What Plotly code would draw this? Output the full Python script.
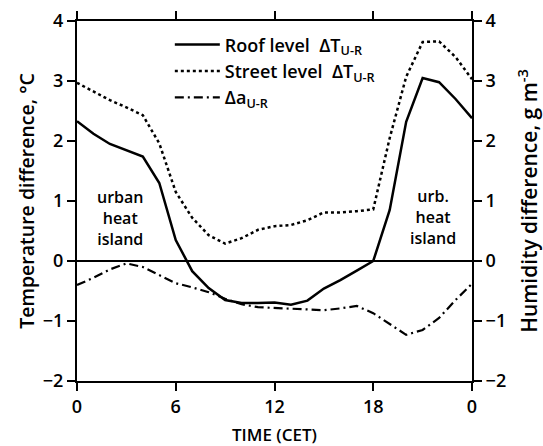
import plotly.graph_objects as go

hours = list(range(0, 25))
roof = [2.33, 2.12, 1.95, 1.85, 1.74, 1.30, 0.35, -0.17, -0.45, -0.65, -0.70, -0.70, -0.69,
        -0.73, -0.66, -0.46, -0.32, -0.16, 0.00, 0.85, 2.32, 3.05, 2.98, 2.70, 2.38]
street = [2.97, 2.83, 2.68, 2.56, 2.43, 1.96, 1.15, 0.72, 0.43, 0.29, 0.38, 0.52, 0.58,
          0.60, 0.68, 0.81, 0.81, 0.83, 0.86, 2.05, 3.07, 3.65, 3.66, 3.40, 3.03]
humid = [-0.40, -0.28, -0.14, -0.04, -0.10, -0.24, -0.37, -0.44, -0.52, -0.63, -0.72, -0.77, -0.78,
         -0.79, -0.81, -0.82, -0.79, -0.75, -0.87, -1.05, -1.23, -1.15, -0.95, -0.65, -0.38]
x_ticks = [0, 6, 12, 18, 24]
x_labels = ["0", "6", "12", "18", "0"]
y_ticks = [-2, -1, 0, 1, 2, 3, 4]

FONT = "Open Sans"
W = 600

fig = go.Figure()
fig.add_trace(go.Scatter(x=hours, y=roof, mode="lines", name="Roof level  ΔT<sub>U-R</sub>",
                         line=dict(color="black", width=2.5, dash="solid")))
fig.add_trace(go.Scatter(x=hours, y=street, mode="lines", name="Street level  ΔT<sub>U-R</sub>",
                         line=dict(color="black", width=2.5, dash="dot")))
fig.add_trace(go.Scatter(x=hours, y=humid, mode="lines", name="Δa<sub>U-R</sub>", yaxis="y2",
                         line=dict(color="black", width=2.2, dash="9px,4px,2px,4px")))

# zero line
fig.add_hline(y=0, line=dict(color="black", width=2))

ann_font = dict(family=FONT, size=16, color="black", weight=W)
fig.add_annotation(x=2.6, y=0.72, text="urban<br>heat<br>island", showarrow=False,
                   font=ann_font)
fig.add_annotation(x=21.65, y=0.73, text="urb.<br>heat<br>island", showarrow=False,
                   font=ann_font)

axis_common = dict(showgrid=False, zeroline=False, showline=True, linecolor="black",
                   linewidth=2, ticks="outside", ticklen=8, tickwidth=2, tickcolor="black",
                   automargin=False,
                   tickfont=dict(family=FONT, size=18, color="black", weight=W))

fig.update_layout(
    width=543, height=446,
    margin=dict(l=77, r=71, t=21, b=65),
    plot_bgcolor="white", paper_bgcolor="white",
    showlegend=True,
    legend=dict(x=0.235, y=0.985, xanchor="left", yanchor="top", bgcolor="rgba(0,0,0,0)",
                font=dict(family=FONT, size=18, color="black", weight=W), itemwidth=45,
                tracegroupgap=2),
    xaxis=dict(range=[0, 24], tickvals=x_ticks, ticktext=x_labels, mirror="ticks",
               title=dict(text="TIME (CET)", font=dict(family=FONT, size=17, color="black", weight=W),
                          standoff=17),
               **axis_common),
    yaxis=dict(range=[-2, 4], tickvals=y_ticks, mirror=False,
               title=dict(text="Temperature difference, °C",
                          font=dict(family=FONT, size=19.5, color="black", weight=W), standoff=3),
               **axis_common),
    yaxis2=dict(range=[-2, 4], tickvals=y_ticks, overlaying="y", side="right",
                title=dict(text="Humidity difference, g m<sup>-3</sup>",
                           font=dict(family=FONT, size=21, color="black", weight=W), standoff=24),
                **axis_common),
)

fig.write_html("out.html")
